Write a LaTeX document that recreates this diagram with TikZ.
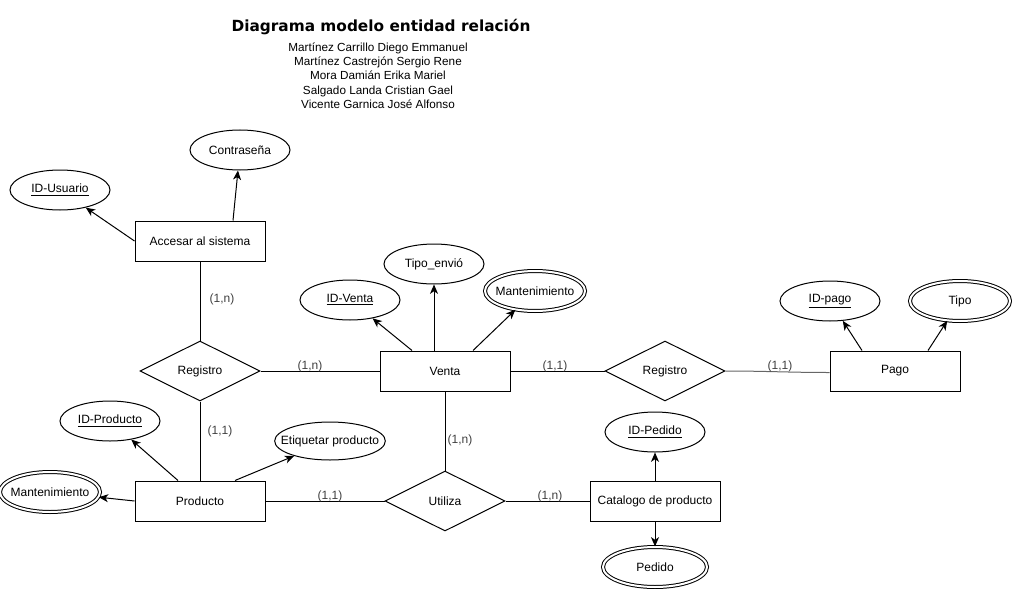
\documentclass[tikz,border=0pt]{standalone}
\usepackage{fontspec}
\setmainfont{Liberation Sans}
\newfontfamily\titlefont{DejaVu Sans}
\usetikzlibrary{shapes.geometric,arrows.meta,calc}
\begin{document}
\begin{tikzpicture}[x=0.75pt,y=-0.75pt, font=\fontsize{9}{10.8}\selectfont, line width=0.75pt,
 entity/.style={draw, rectangle, minimum width=97.5pt, minimum height=30pt, inner sep=0pt},
 attr/.style={draw, ellipse, minimum width=75pt, minimum height=30pt, inner xsep=-10pt, inner ysep=0pt},
 multi/.style={attr, double, double distance=1.5pt},
 rel/.style={draw, diamond, minimum width=90pt, minimum height=45pt, inner sep=0pt, aspect=2},
 arr/.style={-{Stealth[length=7pt,width=6pt,inset=2pt]}},
 card/.style={text=black!75, inner sep=1pt}
]
\useasboundingbox (0,0) rectangle (1012,588);
% title
\node[font=\titlefont\bfseries\fontsize{11.5}{13}\selectfont] (title) at (381,27) {Diagrama modelo entidad relación};
\node[align=center, font=\fontsize{8.8}{10.7}\selectfont] (authors) at (378,75.5) {Martínez Carrillo Diego Emmanuel\\Martínez Castrejón Sergio Rene\\Mora Damián Erika Mariel\\Salgado Landa Cristian Gael\\Vicente Garnica José Alfonso};
% entities
\node[entity] (acc) at (200,241) {Accesar al sistema};
\node[entity] (venta) at (445,371) {Venta};
\node[entity] (pago) at (895,371) {Pago};
\node[entity] (producto) at (200,501) {Producto};
\node[entity] (catalogo) at (655,501) {Catalogo de producto};
% relations
\node[rel] (reg1) at (200,371) {Registro};
\node[rel] (reg2) at (665,371) {Registro};
\node[rel] (utiliza) at (445,501) {Utiliza};
% attributes
\node[attr] (contra) at (240,150) {Contraseña};
\node[attr] (idusu) at (60,190) {\underline{ID-Usuario}};
\node[attr] (idventa) at (350,300) {\underline{ID-Venta}};
\node[attr] (tipoenv) at (434,264) {Tipo\_envió};
\node[multi] (mant1) at (535,291) {Mantenimiento};
\node[attr] (idpago) at (830,301) {\underline{ID-pago}};
\node[multi] (tipo) at (960,301) {Tipo};
\node[attr] (idpedido) at (655,432) {\underline{ID-Pedido}};
\node[multi, minimum width=78pt] (pedido) at (655,567) {Pedido};
\node[attr] (idprod) at (110,421) {\underline{ID-Producto}};
\node[attr, minimum width=83pt, minimum height=28.5pt] (etiq) at (330,441) {Etiquetar producto};
\node[multi] (mant2) at (50,492) {Mantenimiento};
% relationship lines
\draw (acc) -- (reg1);
\draw (reg1) -- (producto);
\draw (reg1) -- (venta);
\draw (venta) -- (reg2);
\draw[black!60] (reg2.east) .. controls ($(reg2.east)+(40,0)$) and ($(pago.west)+(-40,1.5)$) .. ($(pago.west)+(0,1.5)$);
\draw (venta) -- (utiliza);
\draw (producto) -- (utiliza);
\draw (utiliza) -- (catalogo);
% cardinalities
\node[card] (c1) at (222,299) {(1,n)};
\node[card] (c2) at (220,431) {(1,1)};
\node[card] (c3) at (310,366) {(1,n)};
\node[card] (c4) at (555,366) {(1,1)};
\node[card] (c5) at (780,366) {(1,1)};
\node[card] (c6) at (460,440) {(1,n)};
\node[card] (c7) at (330,496) {(1,1)};
\node[card] (c8) at (550,496) {(1,n)};
% attribute arrows
\draw[arr] ($(acc.north)+(33,0)$) -- (contra);
\draw[arr] (acc.west) -- (idusu);
\draw[arr] ($(venta.north)+(-33,0)$) -- (idventa);
\draw[arr] ($(venta.north)+(-11,0)$) -- (tipoenv);
\draw[arr] ($(venta.north)+(28,0)$) -- (mant1);
\draw[arr] ($(pago.north)+(-33,0)$) -- (idpago);
\draw[arr] ($(pago.north)+(33,0)$) -- (tipo);
\draw[arr] ($(producto.north)+(-22,0)$) -- (idprod);
\draw[arr] ($(producto.north)+(35,0)$) -- (etiq);
\draw[arr] (producto.west) -- (mant2);
\draw[arr] (catalogo) -- (idpedido);
\draw[arr] (catalogo) -- (pedido);
\end{tikzpicture}
\end{document}
